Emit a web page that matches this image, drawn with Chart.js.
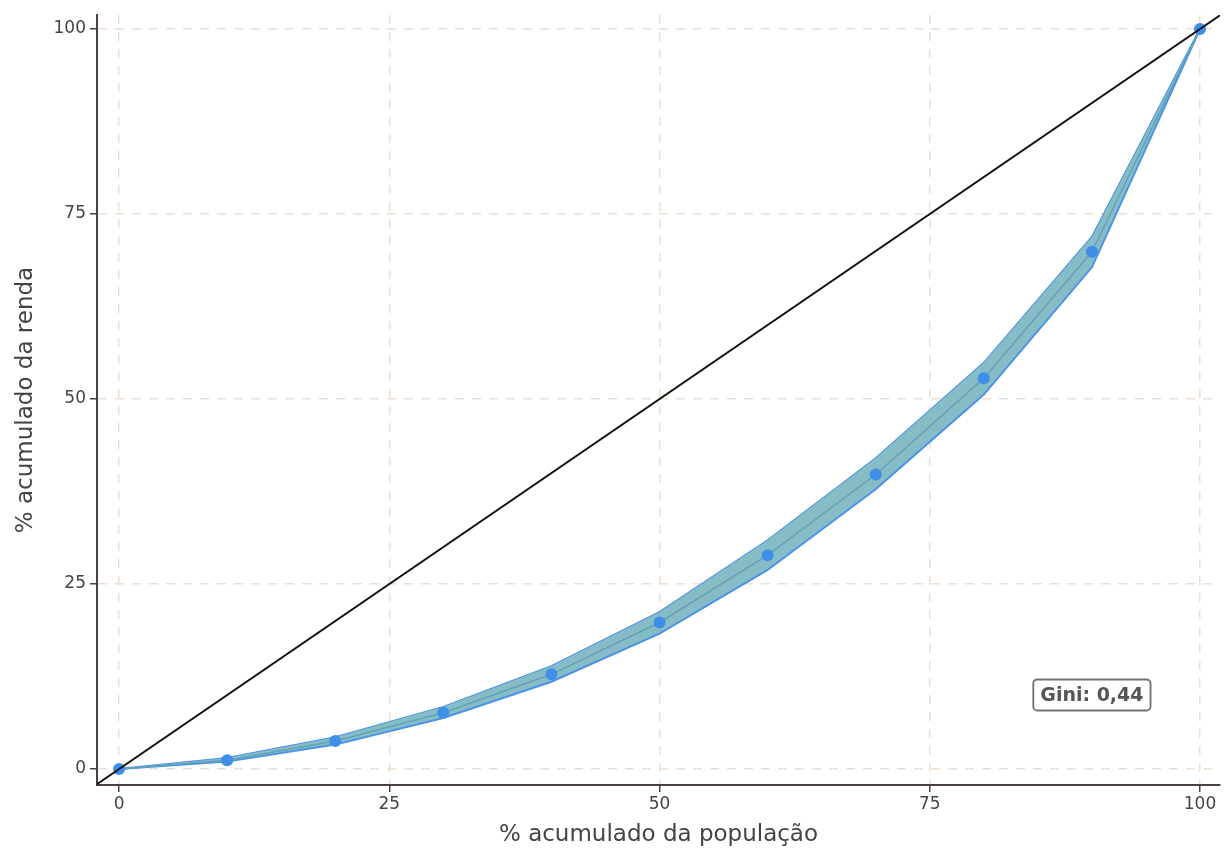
<!DOCTYPE html>
<html><head><meta charset="utf-8">
<script src="https://cdn.jsdelivr.net/npm/chart.js@4.4.1/dist/chart.umd.min.js"></script>
<style>html,body{margin:0;padding:0;background:#fff}#wrap{width:1226px;height:853px}</style>
</head><body><div id="wrap"><canvas id="c" width="1226" height="853"></canvas></div>
<script>
const population = [0,10,20,30,40,50,60,70,80,90,100];
const income     = [0,1.2,3.8,7.6,12.8,19.8,28.9,39.8,52.8,69.9,100];
const upperBand  = [0,1.5,4.3,8.4,13.9,21.2,30.9,42.0,54.9,71.9,100];
const lowerBand  = [0,1.0,3.3,6.9,11.8,18.3,26.9,37.8,50.6,67.8,100];
const diagonal   = [-5,105];
const tickValues = [0,25,50,75,100];
const giniLabel  = "Gini: 0,44";
const giniPos    = [90,10];

const FONT = "'DejaVu Sans', 'Open Sans', sans-serif";
const pts = (xs, ys) => xs.map((x,i)=>({x, y: ys[i]}));

const giniPlugin = {
  id:'gini',
  afterDatasetsDraw(chart){
    const {ctx, scales:{x,y}} = chart;
    const cx = x.getPixelForValue(giniPos[0]), cy = y.getPixelForValue(giniPos[1]);
    ctx.save();
    ctx.font = "bold 19px " + FONT;
    const w = ctx.measureText(giniLabel).width + 14, h = 31;
    const x0 = cx - w/2, y0 = cy - h/2, r = 4;
    ctx.beginPath();
    ctx.roundRect(x0, y0, w, h, r);
    ctx.fillStyle = '#fff'; ctx.fill();
    ctx.lineWidth = 1.8; ctx.strokeStyle = '#707070'; ctx.stroke();
    ctx.fillStyle = '#555'; ctx.textAlign='center'; ctx.textBaseline='middle';
    ctx.fillText(giniLabel, cx, cy+1);
    ctx.restore();
  }
};

const fixedTicks = (scale) => { scale.ticks = tickValues.map(v=>({value:v})); };

new Chart(document.getElementById('c'), {
  type:'scatter',
  data:{ datasets:[
    { data: pts(population, upperBand), showLine:true, borderColor:'#4a93e6', borderWidth:2, pointRadius:0, fill:false, order:3 },
    { data: pts(population, lowerBand), showLine:true, borderColor:'#4a93e6', borderWidth:2, pointRadius:0, fill:'-1', backgroundColor:'#86bcc6', order:2 },
    { data: pts(population, income), showLine:true, borderColor:'#62a3b8', borderWidth:1.5, pointRadius:6, pointBackgroundColor:'#3f8fe8', pointBorderWidth:0, fill:false, order:1 },
    { data: pts(diagonal, diagonal), showLine:true, borderColor:'#111', borderWidth:2, pointRadius:0, fill:false, order:0 }
  ]},
  options:{
    responsive:false, animation:false, devicePixelRatio:1,
    layout:{padding:{left:8,right:6,top:15,bottom:0}},
    plugins:{legend:{display:false}, tooltip:{enabled:false}},
    scales:{
      x:{ type:'linear', min:-2.04, max:101.85,
        afterBuildTicks: fixedTicks,
        afterFit(s){ s.height = 68; },
        grid:{ color:'#ede0d3', lineWidth:1.5, tickLength:7, tickColor:'#4a4040', tickWidth:1.5, tickBorderDash:[] },
        border:{ display:true, color:'#4a4040', width:2, dash:[9,8] },
        ticks:{ color:'#444', font:{family:FONT, size:17}, padding:2 },
        title:{ display:true, text:'% acumulado da população', color:'#444', font:{family:FONT, size:23}, padding:{top:2} }
      },
      y:{ type:'linear', min:-2.16, max:101.9,
        afterBuildTicks: fixedTicks,
        afterFit(s){ s.width = 89; },
        grid:{ color:'#ede0d3', lineWidth:1.5, tickLength:7, tickColor:'#4a4040', tickWidth:1.5, tickBorderDash:[] },
        border:{ display:true, color:'#4a4040', width:2, dash:[9,8] },
        ticks:{ color:'#444', font:{family:FONT, size:17}, padding:4 },
        title:{ display:true, text:'% acumulado da renda', color:'#444', font:{family:FONT, size:23}, padding:{bottom:6} }
      }
    }
  },
  plugins:[giniPlugin]
});
</script></body></html>
